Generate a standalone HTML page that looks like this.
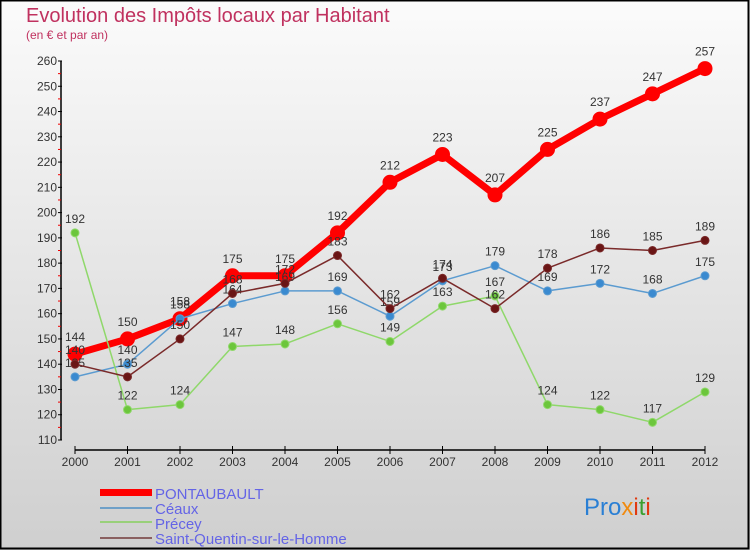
<!DOCTYPE html>
<html><head><meta charset="utf-8"><style>
body{margin:0;}
svg{display:block;font-family:"Liberation Sans",sans-serif;}
</style></head><body>
<svg id="chart" width="750" height="550">
<defs><linearGradient id="bg" x1="0" y1="0" x2="0" y2="1"><stop offset="0" stop-color="#fbfbfb"/><stop offset="1" stop-color="#cfcfcf"/></linearGradient></defs>
<rect x="0" y="0" width="750" height="550" fill="url(#bg)"/>
<rect x="0.5" y="0.5" width="748" height="548" fill="none" stroke="#000" stroke-width="2"/>
<text x="26" y="22" font-size="20" fill="#c0315f">Evolution des Impôts locaux par Habitant</text>
<text x="26" y="39" font-size="12" fill="#c0315f">(en € et par an)</text>
<g id="axes"></g>
<g id="series"></g>
<g id="legend">
<rect x="100" y="489" width="52" height="7" fill="#f00"/>
<text x="155" y="499" font-size="15" fill="#6464e6">PONTAUBAULT</text>
<rect x="100" y="507" width="52" height="2" fill="#6fa0c8"/>
<text x="155" y="514" font-size="15" fill="#6464e6">Céaux</text>
<rect x="100" y="521" width="52" height="2" fill="#99d07a"/>
<text x="155" y="529" font-size="15" fill="#6464e6">Précey</text>
<rect x="100" y="537" width="52" height="2" fill="#8a6060"/>
<text x="155" y="544" font-size="15" fill="#6464e6">Saint-Quentin-sur-le-Homme</text>
</g>
<text x="584" y="515" font-size="24"><tspan fill="#2a7fd4">Pro</tspan><tspan fill="#f08a10">x</tspan><tspan fill="#e03a10">i</tspan><tspan fill="#3aa030">t</tspan><tspan fill="#e03a10">i</tspan></text>
</svg>
<script>
const years=["2000","2001","2002","2003","2004","2005","2006","2007","2008","2009","2010","2011","2012"];
const yTicks=[110,120,130,140,150,160,170,180,190,200,210,220,230,240,250,260];
const pontaubault=[144,150,158,175,175,192,212,223,207,225,237,247,257];
const ceaux=[135,140,158,164,169,169,159,173,179,169,172,168,175];
const precey=[192,122,124,147,148,156,149,163,167,124,122,117,129];
const saintQuentin=[140,135,150,168,172,183,162,174,162,178,186,185,189];
const NS="http://www.w3.org/2000/svg";
function xS(i){return 75+i*52.5;}
function yS(v){return 440-(v-110)*(379/150);}
function mk(tag,attrs,parent){const e=document.createElementNS(NS,tag);for(const k in attrs)e.setAttribute(k,attrs[k]);parent.appendChild(e);return e;}
const ax=document.getElementById('axes');
let yl=mk('line',{x1:61,y1:yS(260),x2:61,y2:yS(110),stroke:'#000','stroke-width':1.5},ax);


yTicks.forEach(v=>{
 let t=mk('line',{x1:58,x2:62,y1:yS(v),y2:yS(v),stroke:'#000'},ax);
 
 
 if(v<260){let m=mk('line',{x1:58,x2:61,y1:yS(v+5),y2:yS(v+5),stroke:'#e00'},ax);
 
 }
 let l=mk('text',{x:57,y:yS(v)+4,'font-size':12,fill:'#333','text-anchor':'end'},ax);l.textContent=v;
 
 
});
let xl=mk('line',{x1:xS(0),y1:450,x2:xS(12),y2:450,stroke:'#000','stroke-width':1.5},ax);


years.forEach((y,i)=>{
 let t=mk('line',{x1:xS(i),x2:xS(i),y1:446,y2:454,stroke:'#000'},ax);
 
 
 let l=mk('text',{x:xS(i),y:466,'font-size':12,fill:'#333','text-anchor':'middle'},ax);l.textContent=y;
 
 
});
const sg=document.getElementById('series');
function draw(vals,name,color,dot,w,r){
 const g=mk('g',{},sg);
 
 
 let p=mk('polyline',{points:vals.map((v,i)=>xS(i)+','+yS(v)).join(' '),fill:'none',stroke:color,'stroke-width':w,'stroke-linejoin':'round'},g);
 
 
 vals.forEach((v,i)=>{
  let c=mk('circle',{cx:xS(i),cy:yS(v),r:r,fill:dot,stroke:color,'stroke-width':1},g);
  
  
  let t=mk('text',{x:xS(i),y:yS(v)-(r+6),'font-size':12,fill:'#333','text-anchor':'middle'},g);t.textContent=v;
  
  
 });
}
draw(pontaubault,'pontaubault','#f00','#f00',7,7);
draw(ceaux,'ceaux','#5b9bd0','#3a8ad0',1.5,4);
draw(precey,'precey','#8fd86a','#6cc63c',1.5,4);
draw(saintQuentin,'saint-quentin','#7a2a2a','#6a1515',1.5,4);
</script>
</body></html>
